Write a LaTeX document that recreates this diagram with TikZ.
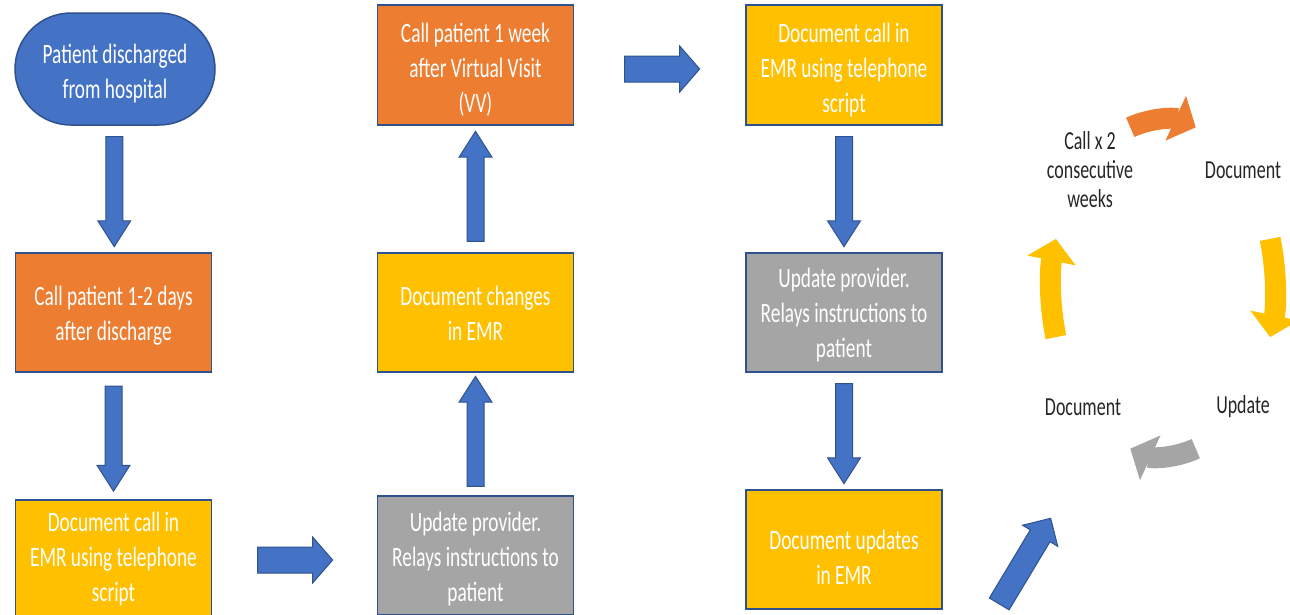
\documentclass[tikz,border=0pt]{standalone}
\usepackage{fontspec}
\setmainfont[FakeStretch=0.69]{Carlito}
\usetikzlibrary{shapes.arrows,arrows.meta,calc}
\definecolor{vvblue}{HTML}{4472C4}
\definecolor{vvline}{HTML}{2F528F}
\definecolor{vvorange}{HTML}{ED7D31}
\definecolor{vvyellow}{HTML}{FFC000}
\definecolor{vvgray}{HTML}{A5A5A5}
\definecolor{vvtext}{HTML}{262626}
\begin{document}
\begin{tikzpicture}[x=1pt,y=-1pt,
  box/.style={draw=vvline,line width=1.5pt,minimum width=196pt,minimum height=119pt,inner sep=0pt},
  boxtext/.style={text=white,align=center,inner sep=0pt,font=\fontsize{28}{35}\selectfont},
  blockv/.style={single arrow,draw=vvline,fill=vvblue,line width=1pt,inner xsep=0pt,inner ysep=8pt,
    minimum height=110pt,single arrow head extend=8pt,single arrow tip angle=65},
  blockh/.style={single arrow,draw=vvline,fill=vvblue,line width=1pt,inner xsep=0pt,inner ysep=12.5pt,
    minimum height=75pt,single arrow head extend=10pt,single arrow tip angle=98},
  cyc/.style={text=vvtext,align=center,inner sep=0pt,font=\fontsize{26}{29}\selectfont},
  cycarrow/.style={line width=21pt,-{Triangle[width=48pt,length=22pt]}}]
\useasboundingbox (0,0) rectangle (1290,614);
\node[box,fill=vvblue,minimum width=200pt,minimum height=112pt,rounded corners=56pt] (start) at (115,69) {};
\node[box,fill=vvorange] (call1) at (113.5,312.5) {};
\node[box,fill=vvyellow] (doc1) at (113.5,559.5) {};
\node[box,fill=vvgray] (upd1) at (475.5,555.5) {};
\node[box,fill=vvyellow] (doc2) at (475.5,312.5) {};
\node[box,fill=vvorange,minimum height=120pt] (call2) at (475.5,65) {};
\node[box,fill=vvyellow,minimum height=120pt] (doc3) at (844,65) {};
\node[box,fill=vvgray] (upd2) at (844,312.5) {};
\node[box,fill=vvyellow] (doc4) at (844,549.5) {};
\node[boxtext] (start-t) at ([yshift=-5pt]start.center) {Patient discharged\\from hospital};
\node[boxtext] (call1-t) at ([yshift=-3.5pt]call1.center) {Call patient 1-2 days\\after discharge};
\node[boxtext] (doc1-t) at (doc1.center) {Document call in\\EMR using telephone\\script};
\node[boxtext] (upd1-t) at ([yshift=-4pt]upd1.center) {Update provider.\\Relays instructions to\\patient};
\node[boxtext] (doc2-t) at ([yshift=-1pt]doc2.center) {Document changes\\in EMR};
\node[boxtext] (call2-t) at ([yshift=-5pt]call2.center) {Call patient 1 week\\after Virtual Visit\\(VV)};
\node[boxtext] (doc3-t) at ([yshift=-5pt]doc3.center) {Document call in\\EMR using telephone\\script};
\node[boxtext] (upd2-t) at ([yshift=-3pt]upd2.center) {Update provider.\\Relays instructions to\\patient};
\node[boxtext] (doc4-t) at ([yshift=-8pt]doc4.center) {Document updates\\in EMR};
\node[blockv,rotate=-90] (a1) at ($(start.south)!0.5!(call1.north)+(0,-4)$) {};
\node[blockv,rotate=-90,minimum height=105pt] (a2) at ($(call1.south)!0.5!(doc1.north)+(0,-4)$) {};
\node[blockh] (a3) at (289.5,560) {};
\node[blockv,rotate=90] (a4) at ($(upd1.north)!0.5!(doc2.south)+(0,4)$) {};
\node[blockv,rotate=90] (a5) at ($(doc2.north)!0.5!(call2.south)+(0,4)$) {};
\node[blockh] (a6) at (656.5,69) {};
\node[blockv,rotate=-90] (a7) at ($(doc3.south)!0.5!(upd2.north)+(0,-4)$) {};
\node[blockv,rotate=-90,minimum height=100pt] (a8) at ($(upd2.south)!0.5!(doc4.north)+(0,-4)$) {};
\node[blockh,rotate=59,minimum height=100pt,inner ysep=11pt,single arrow head extend=9pt,single arrow tip angle=90] (a9) at (1022,566) {};
\node[cyc] (c1) at (1090,170) {Call x 2\\consecutive\\weeks};
\node[cyc] (c2) at (1243,170) {Document};
\node[cyc] (c3) at (1243,407) {Update};
\node[cyc] (c4) at (1083,407) {Document};
\coordinate (hub) at (1163,288);
\draw[cycarrow,vvorange] ($(hub)+(-107:112 and 168)$) arc[start angle=-107,end angle=-73,x radius=112,y radius=168];
\draw[cycarrow,vvyellow] ($(hub)+(-17:112 and 168)$) arc[start angle=-17,end angle=17,x radius=112,y radius=168];
\draw[cycarrow,vvgray] ($(hub)+(73:112 and 168)$) arc[start angle=73,end angle=107,x radius=112,y radius=168];
\draw[cycarrow,vvyellow] ($(hub)+(163:112 and 168)$) arc[start angle=163,end angle=197,x radius=112,y radius=168];
\end{tikzpicture}
\end{document}
